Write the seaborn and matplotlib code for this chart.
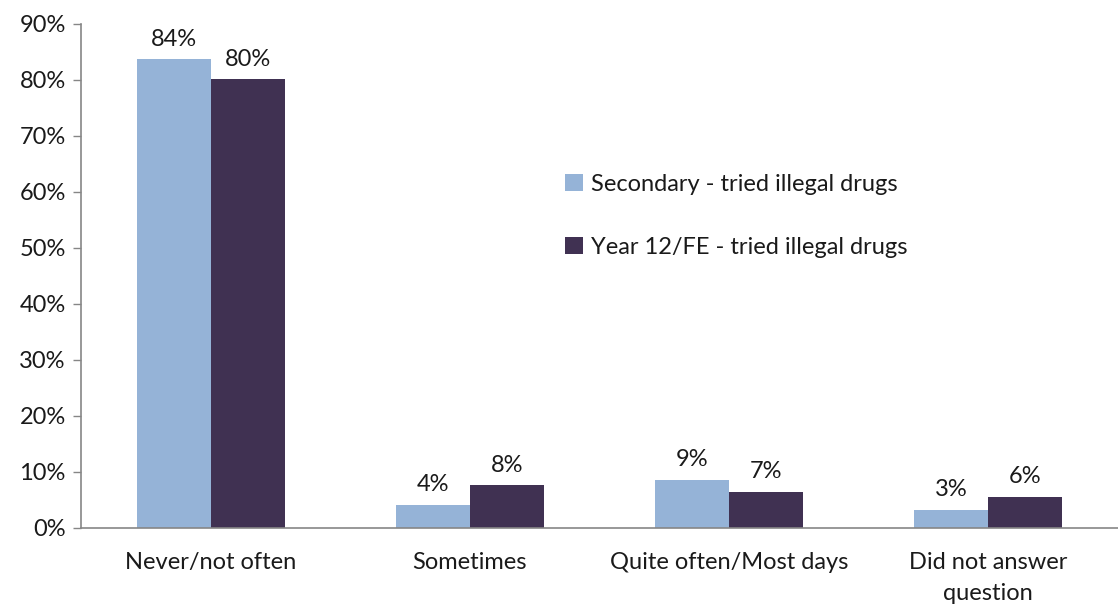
import matplotlib
matplotlib.use("Agg")
import matplotlib.pyplot as plt
import seaborn as sns
import pandas as pd
import numpy as np

categories = ["Never/not often", "Sometimes", "Quite often/Most days", "Did not answer\nquestion"]
series_names = ["Secondary - tried illegal drugs", "Year 12/FE - tried illegal drugs"]
secondary = [83.7, 4.1, 8.6, 3.3]
year12 = [80.1, 7.6, 6.5, 5.6]
secondary_labels = ["84%", "4%", "9%", "3%"]
year12_labels = ["80%", "8%", "7%", "6%"]
colors = ["#95B3D7", "#403152"]

sns.set_theme(style="white")
plt.rcParams['font.family'] = ['Lato', 'DejaVu Sans']

FS = 17

df = pd.DataFrame({
    "category": categories * 2,
    "value": secondary + year12,
    "series": [series_names[0]] * 4 + [series_names[1]] * 4,
})

fig = plt.figure(figsize=(11.18, 6.08), dpi=100)
ax = fig.add_axes([81/1118, 1 - 528/608, 1 - 81/1118, (528 - 24)/608])

sns.barplot(data=df, x="category", y="value", hue="series", order=categories,
            hue_order=series_names, palette=colors, width=0.57, gap=0,
            saturation=1, ax=ax, linewidth=0)

for cont, labs in zip(ax.containers, [secondary_labels, year12_labels]):
    ax.bar_label(cont, labels=labs, padding=7, fontsize=FS, color="#1a1a1a")

ax.set_ylim(0, 90)
ax.set_xlim(-0.5, 3.5)
ax.set_yticks(np.arange(0, 91, 10))
ax.set_yticklabels([f"{v}%" for v in range(0, 91, 10)], fontsize=FS, color="#1a1a1a")
ax.set_xticks(range(4))
ax.set_xticklabels(categories, fontsize=FS, color="#1a1a1a", linespacing=1.6)
ax.set_xticks(np.arange(-0.5, 3.6, 1), minor=True)
ax.tick_params(axis="x", which="major", length=0, pad=17)
ax.tick_params(axis="x", which="minor", length=6, width=1, color="#868686", direction="out")
ax.tick_params(axis="y", which="major", length=6, width=1, color="#868686", direction="out", left=True, pad=5)
ax.set_xlabel("")
ax.set_ylabel("")

for s in ["top", "right"]:
    ax.spines[s].set_visible(False)
for s in ["left", "bottom"]:
    ax.spines[s].set_color("#868686")
    ax.spines[s].set_linewidth(1.2)

leg = ax.legend(loc="upper left", bbox_to_anchor=(0.458, 0.722), frameon=False,
                fontsize=FS, labelspacing=1.8, handlelength=0.75, handleheight=0.75,
                handletextpad=0.35, borderaxespad=0)
for t in leg.get_texts():
    t.set_color("#1a1a1a")

fig.savefig("out.png", dpi=100)
